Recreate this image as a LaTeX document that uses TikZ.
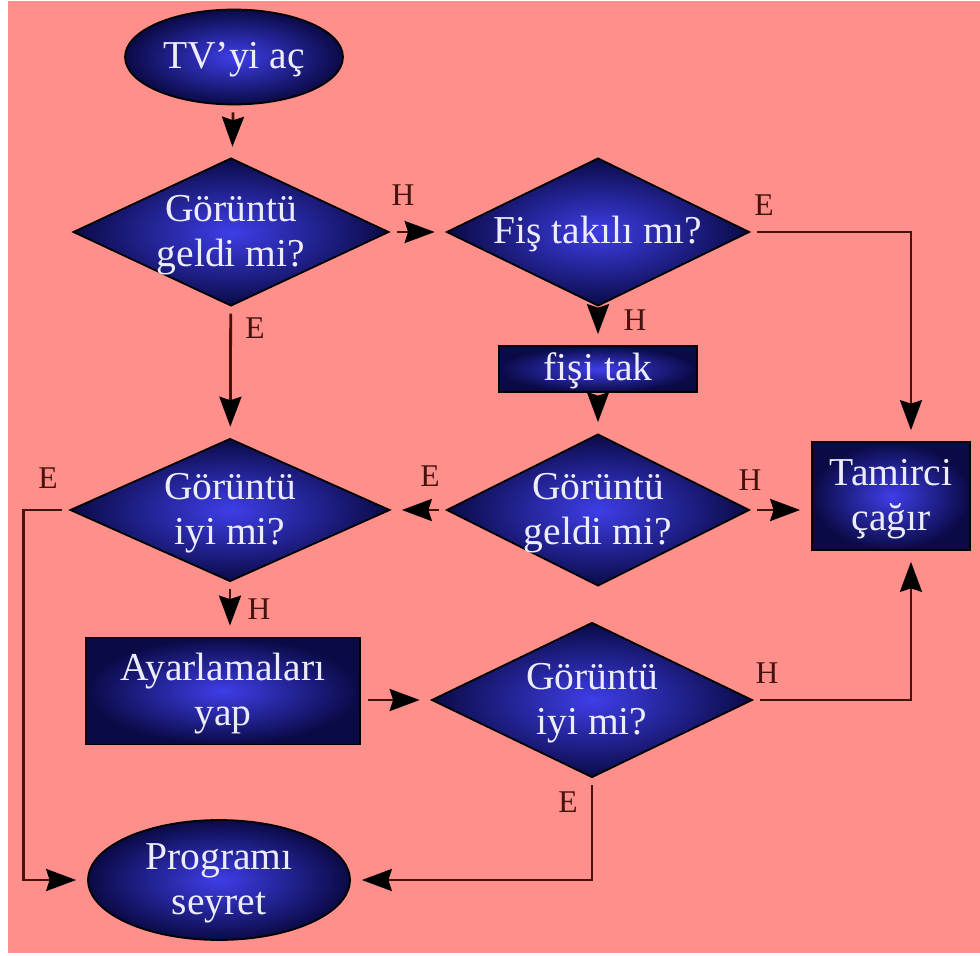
\documentclass[tikz,border=0pt]{standalone}
\usepackage{fontspec}
\setmainfont{Liberation Serif}
\usetikzlibrary{shapes.geometric,arrows.meta}
\definecolor{bgpink}{RGB}{255,143,138}
\definecolor{navyin}{RGB}{62,62,232}
\definecolor{navyout}{RGB}{10,10,70}
\definecolor{linebrown}{RGB}{70,18,14}
\definecolor{nodetext}{RGB}{236,236,252}
\newcommand{\fctext}[1]{\smash{\makebox[0pt]{\raisebox{-0.3em}{\begin{tabular}{@{}c@{}}#1\end{tabular}}}}}

\begin{document}
\begin{tikzpicture}
[
x=0.02cm, y=-0.02cm,
block/.style={draw=black,line width=1pt,shading=radial,inner color=navyin,outer color=navyout,
              inner sep=0pt,text=nodetext,font=\fontsize{22.5}{26}\selectfont},
decision/.style 2 args={block,diamond,minimum width=#1,minimum height=#2},
terminal/.style 2 args={block,ellipse,minimum width=#1,minimum height=#2},
process/.style 2 args={block,rectangle,minimum width=#1,minimum height=#2},
flow/.style={draw=linebrown,line width=1.6pt,
             -{Stealth[length=0.6cm,width=0.44cm,inset=0.07cm,color=black]},
             shorten <=0.14cm,shorten >=0.22cm},
answer/.style={text=linebrown,inner sep=0pt,font=\fontsize{18}{20}\selectfont},
]

%Background
\fill[white] (0,0) rectangle (980,956);
\fill[bgpink] (8,1) rectangle (980,953);

%Place the nodes
\node[terminal={4.36cm}{1.9cm}] (tv) at (234,57) {\fctext{TV'yi aç}};
\node[decision={6.32cm}{2.96cm}] (gelA) at (231,232) {\fctext{Görüntü\\geldi mi?}};
\node[decision={6.06cm}{2.96cm}] (fis) at (598,232) {\fctext{Fiş takılı mı?}};
\node[process={3.96cm}{0.92cm}] (tak) at (598,369) {\fctext{fişi tak}};
\node[decision={6.06cm}{3.04cm}] (gelB) at (598,510) {\fctext{Görüntü\\geldi mi?}};
\node[process={3.16cm}{2.16cm}] (tamir) at (891,496) {\fctext{Tamirci\\çağır}};
\node[decision={6.4cm}{2.86cm}] (iyiA) at (230,510) {\fctext{Görüntü\\iyi mi?}};
\node[process={5.48cm}{2.14cm}] (ayar) at (223,691) {\fctext{Ayarlamaları\\yap}};
\node[decision={6.42cm}{3.1cm}] (iyiB) at (592,700) {\fctext{Görüntü\\iyi mi?}};
\node[terminal={5.24cm}{2.4cm}] (prog) at (219,880) {\fctext{Programı\\seyret}};

%Place the labels
\node[answer] (hA) at (403,195) {H};
\node[answer] (eA) at (764,205) {E};
\node[answer] (hB) at (635,320) {H};
\node[answer] (eB) at (255,328) {E};
\node[answer] (eC) at (430,476) {E};
\node[answer] (hC) at (750,480) {H};
\node[answer] (eD) at (48,478) {E};
\node[answer] (hD) at (259,609) {H};
\node[answer] (hE) at (767,673) {H};
\node[answer] (eE) at (568,802) {E};

%Draw the connections
\draw[flow] (tv) -- (gelA);
\draw[flow] (gelA) -- (fis);
\draw[flow] (fis.east) -| (tamir.70);
\draw[flow] (fis) -- (tak);
\draw[flow] (tak) -- (gelB);
\draw[flow] (gelB) -- (iyiA);
\draw[flow] (gelB.east) -- (gelB.east -| tamir.west);
\draw[flow] (gelA) -- (iyiA);
\draw[flow] (iyiA.south) -- (iyiA.south |- ayar.north);
\draw[flow] (iyiA.west) -- ++(-46,0) |- (prog.west);
\draw[flow] (ayar.east |- iyiB.west) -- (iyiB.west);
\draw[flow] (iyiB.east) -| (tamir.-70);
\draw[flow] (iyiB.south) |- (prog.east);
\end{tikzpicture}
\end{document}
